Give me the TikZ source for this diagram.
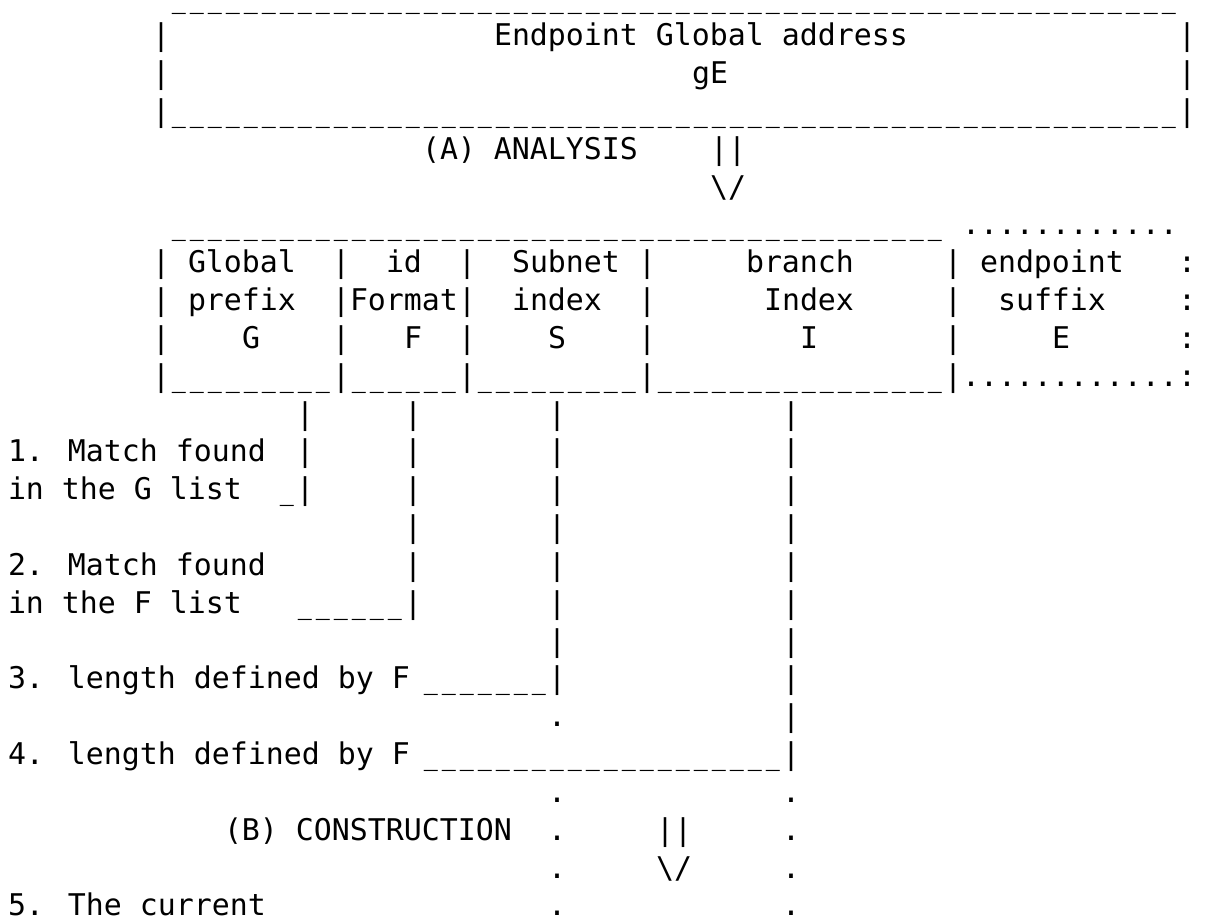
\documentclass[tikz,border=0pt]{standalone}
\usepackage{fontspec}
\newfontfamily\asciifont{DejaVu Sans Mono}

% repeat one character n times
\newcommand\charrun[2]{\foreach\k in {1,...,#1}{#2}}
% underscore that leaves a small gap to its neighbours
\newcommand\lowbar{\makebox[13.5pt][c]{\scalebox{0.78}[1]{\_}}}

\tikzset{
  ascii/.style={anchor=base west, inner sep=0pt, outer sep=0pt,
    font=\asciifont\fontsize{22.42pt}{28pt}\selectfont},
}

\begin{document}
\begin{tikzpicture}[x=13.5pt, y=-28.3725pt]
    \useasboundingbox (-6pt,6pt) rectangle (899.25pt,-681pt);

    % global address box
    \node[ascii] (gtop) at (9,0) {\charrun{56}{\lowbar}};
    \foreach \r in {1,2,3} {
        \node[ascii] (gleft\r) at (8,\r) {|};
        \node[ascii] (gright\r) at (65,\r) {|};
    }
    \node[ascii] (gname) at (27,1) {Endpoint Global address};
    \node[ascii] (gE) at (38,2) {gE};
    \node[ascii] (gbot) at (9,3) {\charrun{56}{\lowbar}};

    \node[ascii] (analysis) at (23,4) {(A) ANALYSIS};
    \node[ascii] (arrA) at (39,4) {||};
    \node[ascii] (arrAtip) at (39,5) {\textbackslash/};

    % split into fields
    \node[ascii] (ftop) at (9,6) {\charrun{43}{\lowbar}};
    \node[ascii] (etop) at (53,6) {\charrun{12}{.}};
    \foreach \r in {7,...,10} {
        \foreach \c in {8,18,25,35,52}
            \node[ascii] (sep\c-\r) at (\c,\r) {|};
        \node[ascii] (esep\r) at (65,\r) {:};
    }
    \node[ascii] (G1) at (10,7) {Global};
    \node[ascii] (G2) at (10,8) {prefix};
    \node[ascii] (G) at (13,9) {G};
    \node[ascii] (F1) at (21,7) {id};
    \node[ascii] (F2) at (19,8) {Format};
    \node[ascii] (F) at (22,9) {F};
    \node[ascii] (S1) at (28,7) {Subnet};
    \node[ascii] (S2) at (28,8) {index};
    \node[ascii] (S) at (30,9) {S};
    \node[ascii] (I1) at (41,7) {branch};
    \node[ascii] (I2) at (42,8) {Index};
    \node[ascii] (I) at (44,9) {I};
    \node[ascii] (E1) at (54,7) {endpoint};
    \node[ascii] (E2) at (55,8) {suffix};
    \node[ascii] (E) at (58,9) {E};
    \node[ascii] (Gbot) at (9,10) {\charrun{9}{\lowbar}};
    \node[ascii] (Fbot) at (19,10) {\charrun{6}{\lowbar}};
    \node[ascii] (Sbot) at (26,10) {\charrun{9}{\lowbar}};
    \node[ascii] (Ibot) at (36,10) {\charrun{16}{\lowbar}};
    \node[ascii] (Ebot) at (53,10) {\charrun{12}{.}};

    % lines down from the fields
    \foreach \r in {11,12,13}
        \node[ascii] (gline\r) at (16,\r) {|};
    \foreach \r in {11,...,16}
        \node[ascii] (fline\r) at (22,\r) {|};
    \foreach \r in {11,...,18}
        \node[ascii] (sline\r) at (30,\r) {|};
    \foreach \r in {11,...,20}
        \node[ascii] (iline\r) at (43,\r) {|};
    \foreach \r in {19,21,22,23,24}
        \node[ascii] (sdot\r) at (30,\r) {.};
    \foreach \r in {21,...,24}
        \node[ascii] (idot\r) at (43,\r) {.};

    % steps
    \node[ascii] (step1a) at (0,12) {1. Match found};
    \node[ascii] (step1b) at (0,13) {in the G list};
    \node[ascii] (step1u) at (15,13) {\lowbar};
    \node[ascii] (step2a) at (0,15) {2. Match found};
    \node[ascii] (step2b) at (0,16) {in the F list};
    \node[ascii] (step2u) at (16,16) {\charrun{6}{\lowbar}};
    \node[ascii] (step3) at (0,18) {3. length defined by F};
    \node[ascii] (step3u) at (23,18) {\charrun{7}{\lowbar}};
    \node[ascii] (step4) at (0,20) {4. length defined by F};
    \node[ascii] (step4u) at (23,20) {\charrun{20}{\lowbar}};

    \node[ascii] (construction) at (12,22) {(B) CONSTRUCTION};
    \node[ascii] (arrB) at (36,22) {||};
    \node[ascii] (arrBtip) at (36,23) {\textbackslash/};
    \node[ascii] (step5) at (0,24) {5. The current};
\end{tikzpicture}
\end{document}
